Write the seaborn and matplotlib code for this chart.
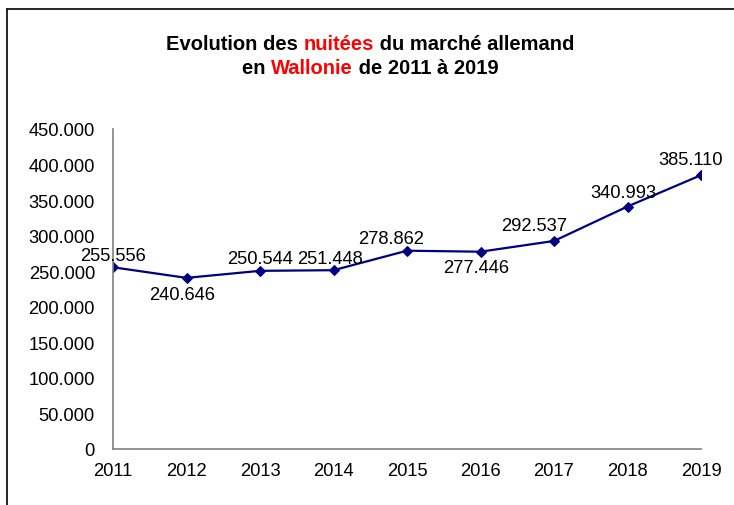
import matplotlib
matplotlib.use('Agg')
import matplotlib.pyplot as plt
import matplotlib.ticker as mticker
from matplotlib.lines import Line2D
import pandas as pd
import seaborn as sns

#---------------------------------------------------------
years=[2011, 2012, 2013, 2014, 2015, 2016, 2017, 2018, 2019]
nuitees=[255556, 240646, 250544, 251448, 278862, 277446, 292537, 340993, 385110]
labels=['255.556', '240.646', '250.544', '251.448', '278.862', '277.446', '292.537', '340.993', '385.110']
# label offsets in pixels (dx, dy), dy positive = up
lbl_off=[(0, 12), (-4, -17), (0, 12), (-3, 12), (-16, 12), (-4, -16), (-20, 15), (-4, 14), (-10, 16)]
col_line='#000080'
fs=13.2

#--------------------------------------------------------
df=pd.DataFrame({'year':years, 'val':nuitees})

sns.set_style('white')
plt.rcParams['font.family']=['Liberation Sans', 'DejaVu Sans']

fig=plt.figure(figsize=(7.34, 5.06), dpi=100)
ax=fig.add_axes([113/734, 1-450/506, (701-113)/734, 320/506])
sns.lineplot(data=df, x='year', y='val', ax=ax, color=col_line, lw=1.6,
	marker='D', markersize=5, markeredgecolor=col_line, markerfacecolor=col_line)

#adjust
ax.set_xlim(2011, 2019)
ax.set_ylim(0, 450000)
ax.set_xticks(years)
ax.set_yticks(range(0, 450001, 50000))
ax.yaxis.set_major_formatter(mticker.FuncFormatter(lambda v, p: '0' if v==0 else f'{int(v):,}'.replace(',', '.')))
ax.set_xlabel('')
ax.set_ylabel('')
for s in ['top', 'right']:
	ax.spines[s].set_visible(False)
for s in ['left', 'bottom']:
	ax.spines[s].set_color('#808080')
	ax.spines[s].set_linewidth(1.2)
ax.tick_params(axis='both', which='major', direction='out', length=5, width=1, color='#808080', labelsize=fs, labelcolor='black')
ax.tick_params(axis='y', pad=8)
ax.tick_params(axis='x', pad=4.5)
ax.patch.set_visible(False)

#data labels
for x, y, t, (dx, dy) in zip(years, nuitees, labels, lbl_off):
	ax.annotate(t, (x, y), xytext=(dx*0.72, dy*0.72), textcoords='offset points',
		ha='center', va='center', fontsize=fs, color='black', annotation_clip=False)

#title in two lines with coloured words
def draw_parts(parts, ycen):
	r=fig.canvas.get_renderer()
	txts=[]
	for s, c in parts:
		t=fig.text(0, ycen, s, color=c, fontsize=14.5, weight='bold', va='center', ha='left')
		txts.append(t)
	w=[t.get_window_extent(r).width for t in txts]
	x0=(370-sum(w)/2)
	for t, wi in zip(txts, w):
		t.set_x(x0/734)
		x0+=wi

draw_parts([('Evolution des ', 'black'), ('nuitées', '#ff0000'), (' du marché allemand', 'black')], 1-45/506)
draw_parts([('en ', 'black'), ('Wallonie', '#ff0000'), (' de 2011 à 2019', 'black')], 1-68/506)

#outer frame (top and left edge)
fig.add_artist(Line2D([7/734, 7/734], [0, 1-10/506], color='black', lw=1.2, transform=fig.transFigure))
fig.add_artist(Line2D([7/734, 1], [1-10/506, 1-10/506], color='black', lw=1.2, transform=fig.transFigure))

plt.savefig('out.png', dpi=100)
plt.close()
